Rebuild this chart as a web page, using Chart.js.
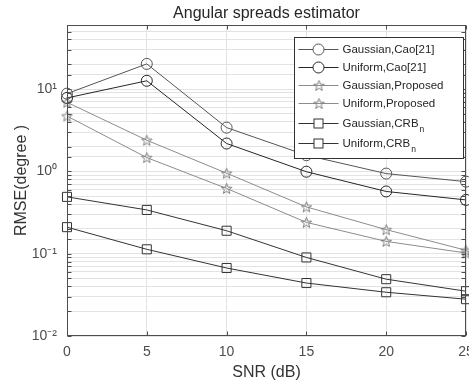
<!DOCTYPE html>
<html>
<head>
<meta charset="utf-8">
<script src="https://cdn.jsdelivr.net/npm/chart.js@4"></script>
<style>
html, body { margin: 0; padding: 0; background: #fff; }
#wrap { width: 469px; height: 387px; }
</style>
</head>
<body>
<div id="wrap"><canvas id="myChart" width="469" height="387"></canvas></div>
<script>
// values
var snr = [0, 5, 10, 15, 20, 25];
var gaussianCao = [8.8, 20.2, 3.4, 1.57, 0.94, 0.75];
var uniformCao = [7.8, 12.6, 2.18, 0.99, 0.57, 0.45];
var gaussianProposed = [6.9, 2.39, 0.95, 0.37, 0.196, 0.11];
var uniformProposed = [4.7, 1.47, 0.62, 0.24, 0.141, 0.102];
var gaussianCRB = [0.49, 0.34, 0.19, 0.09, 0.049, 0.035];
var uniformCRB = [0.21, 0.113, 0.067, 0.044, 0.034, 0.028];

var seriesNames = ['Gaussian,Cao[21]', 'Uniform,Cao[21]', 'Gaussian,Proposed', 'Uniform,Proposed', 'Gaussian,CRB', 'Uniform,CRB'];
var seriesSub = ['', '', '', '', 'n', 'n'];
var yExponents = [-2, -1, 0, 1];
var yTickLabels = ['10\u207B\u00B2', '10\u207B\u00B9', '10\u2070', '10\u00B9'];

// hollow pentagram marker
function makeStar(color) {
  var c = document.createElement('canvas');
  c.width = 13; c.height = 13;
  var g = c.getContext('2d');
  g.strokeStyle = color;
  g.lineWidth = 1;
  g.beginPath();
  for (var i = 0; i < 10; i++) {
    var rad = (i % 2 == 0) ? 5.6 : 2.3;
    var ang = -Math.PI / 2 + i * Math.PI / 5;
    var px = 6.5 + rad * Math.cos(ang), py = 7 + rad * Math.sin(ang);
    if (i == 0) g.moveTo(px, py); else g.lineTo(px, py);
  }
  g.closePath();
  g.stroke();
  return c;
}
var starGray = makeStar('#808080');

function toPoints(ys) {
  return ys.map(function(v, i) { return { x: snr[i], y: v }; });
}

function makeSet(idx, values, color, style, radius) {
  return {
    label: seriesNames[idx],
    data: toPoints(values),
    borderColor: color,
    borderWidth: 1,
    pointStyle: style,
    pointRadius: radius,
    pointHoverRadius: radius,
    pointBorderColor: color,
    pointBorderWidth: 1,
    pointBackgroundColor: 'rgba(0,0,0,0)',
    tension: 0,
    clip: false
  };
}

var datasets = [
  makeSet(0, gaussianCao, '#555555', 'circle', 5.5),
  makeSet(1, uniformCao, '#262626', 'circle', 5.5),
  makeSet(2, gaussianProposed, '#8c8c8c', starGray, 6),
  makeSet(3, uniformProposed, '#8c8c8c', starGray, 6),
  makeSet(4, gaussianCRB, '#333333', 'rect', 6.4),
  makeSet(5, uniformCRB, '#333333', 'rect', 6.4)
];

var matlabBox = {
  id: 'matlabBox',
  afterDraw: function(chart) {
    var ctx = chart.ctx, a = chart.chartArea;
    var xs = chart.scales.x, ys = chart.scales.y;
    var l = Math.round(a.left) + 0.5, r = Math.round(a.right) - 0.5;
    var t = Math.round(a.top) + 0.5, b = Math.round(a.bottom) - 0.5;
    ctx.save();
    ctx.strokeStyle = '#4d4d4d';
    ctx.lineWidth = 1;
    ctx.beginPath();
    xs.ticks.forEach(function(tk) {
      var px = Math.round(xs.getPixelForValue(tk.value)) + 0.5;
      ctx.moveTo(px, b); ctx.lineTo(px, b - 4);
      ctx.moveTo(px, t); ctx.lineTo(px, t + 4);
    });
    ys.ticks.forEach(function(tk) {
      var py = Math.round(ys.getPixelForValue(tk.value)) + 0.5;
      ctx.moveTo(l, py); ctx.lineTo(l + 4, py);
      ctx.moveTo(r, py); ctx.lineTo(r - 4, py);
    });
    ctx.stroke();
    ctx.strokeRect(l, t, r - l, b - t);

    // legend
    var lw = 169, lh = 121;
    var lx = Math.round(a.right) - 3 - lw + 0.5, ly = Math.round(a.top) + 12 + 0.5;
    ctx.fillStyle = '#ffffff';
    ctx.fillRect(lx, ly, lw, lh);
    ctx.strokeStyle = '#333333';
    ctx.strokeRect(lx, ly, lw, lh);
    var rowY = ly + 11;
    chart.data.datasets.forEach(function(ds, i) {
      if (i > 0) rowY += 18.3 + (seriesSub[i] ? 1.5 : 0);
      var y = Math.round(rowY) + 0.5;
      ctx.strokeStyle = ds.borderColor;
      ctx.beginPath();
      ctx.moveTo(lx + 4, y); ctx.lineTo(lx + 44, y);
      ctx.stroke();
      var mx = lx + 24;
      if (ds.pointStyle == 'circle') {
        ctx.fillStyle = '#fff';
        ctx.beginPath(); ctx.arc(mx, y, 5.5, 0, Math.PI * 2); ctx.fill(); ctx.stroke();
      } else if (ds.pointStyle == 'rect') {
        ctx.fillStyle = '#fff';
        ctx.fillRect(mx - 4.5, y - 4.5, 9, 9);
        ctx.strokeRect(mx - 4.5, y - 4.5, 9, 9);
      } else {
        ctx.drawImage(ds.pointStyle, Math.round(mx) - 6.5, Math.round(y) - 7);
      }
      ctx.fillStyle = '#262626';
      ctx.textBaseline = 'middle';
      ctx.textAlign = 'left';
      ctx.font = '11.5px "Liberation Sans", Arial, sans-serif';
      ctx.fillText(ds.label, lx + 48, y);
      if (seriesSub[i]) {
        var w = ctx.measureText(ds.label).width;
        ctx.font = '8.5px "Liberation Sans", Arial, sans-serif';
        ctx.fillText(seriesSub[i], lx + 49 + w, y + 6);
      }
    });
    ctx.restore();
  }
};

var ctx = document.getElementById('myChart').getContext('2d');
new Chart(ctx, {
  type: 'line',
  data: { datasets: datasets },
  options: {
    responsive: false,
    animation: false,
    devicePixelRatio: 1,
    layout: { autoPadding: false, padding: { left: 0, right: 3, top: 0, bottom: 0 } },
    plugins: {
      legend: { display: false },
      tooltip: { enabled: false },
      title: {
        display: true,
        text: 'Angular spreads estimator',
        fullSize: false,
        color: '#262626',
        font: { family: '"Liberation Sans", Arial, sans-serif', size: 16, weight: 'normal' },
        padding: { top: 3.5, bottom: 2.3 }
      }
    },
    scales: {
      x: {
        type: 'linear',
        min: 0,
        max: 25,
        border: { display: false },
        grid: { color: '#e3e3e3', drawTicks: false },
        ticks: {
          stepSize: 5,
          padding: 8,
          color: '#4d4d4d',
          font: { family: '"Liberation Sans", Arial, sans-serif', size: 14 }
        },
        title: {
          display: true,
          text: 'SNR (dB)',
          color: '#333333',
          font: { family: '"Liberation Sans", Arial, sans-serif', size: 16 },
          padding: { top: 0, bottom: 5 }
        },
        afterFit: function(s) { s.height = 51; s.paddingLeft = 0; s.paddingRight = 0; }
      },
      y: {
        type: 'logarithmic',
        min: 0.01,
        max: 60,
        border: { display: false },
        grid: { color: '#e3e3e3', drawTicks: false },
        ticks: {
          autoSkip: false,
          padding: 10,
          color: '#4d4d4d',
          font: { family: '"Liberation Sans", Arial, sans-serif', size: 14 },
          callback: function(value) {
            var e = Math.log10(value);
            var k = yExponents.indexOf(Math.round(e));
            if (Math.abs(e - Math.round(e)) < 1e-6 && k >= 0) return yTickLabels[k];
            return '';
          }
        },
        title: {
          display: true,
          text: 'RMSE(degree )',
          color: '#333333',
          font: { family: '"Liberation Sans", Arial, sans-serif', size: 16 },
          padding: { top: 12, bottom: 0 }
        },
        afterFit: function(s) { s.width = 67; }
      }
    }
  },
  plugins: [matlabBox]
});
</script>
</body>
</html>
